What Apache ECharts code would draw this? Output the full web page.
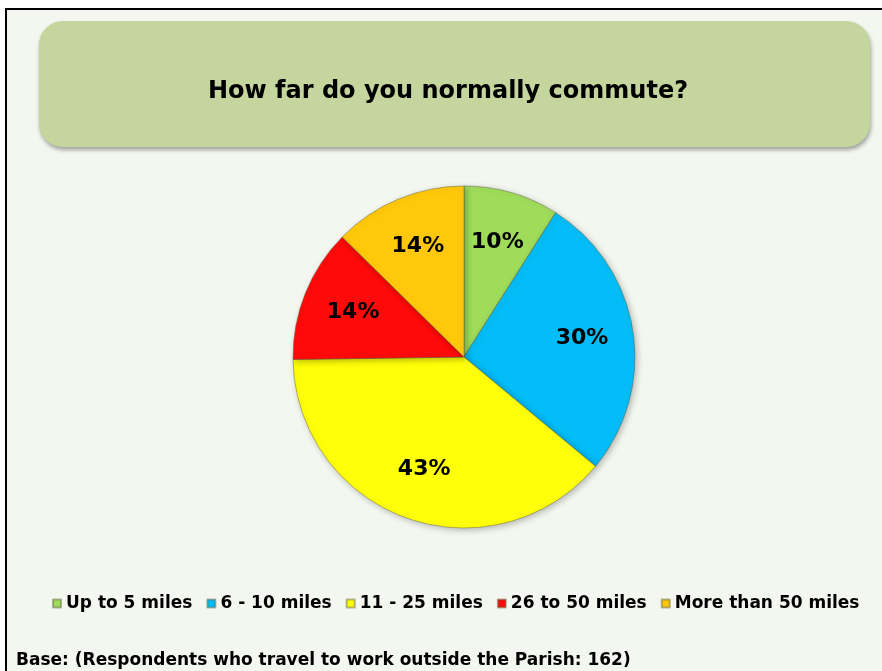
<!DOCTYPE html>
<html>
<head>
<meta charset="utf-8">
<script src="https://cdn.jsdelivr.net/npm/echarts@6/dist/echarts.min.js"></script>
<style>
  html, body { margin: 0; padding: 0; background: #fff; }
  #chart { width: 882px; height: 671px; }
</style>
</head>
<body>
<div id="chart"></div>
<script>
// data
var categories = ["Up to 5 miles", "6 - 10 miles", "11 - 25 miles", "26 to 50 miles", "More than 50 miles"];
var values = [10, 30, 43, 14, 14];
var colors = ["#9fdc5a", "#04bcf7", "#ffff0a", "#ff0a0a", "#ffc80a"];
var titleText = "How far do you normally commute?";
var baseText = "Base: (Respondents who travel to work outside the Parish: 162)";

var font = "'DejaVu Sans', Verdana, sans-serif";

var myChart = echarts.init(document.getElementById("chart"));

var pieData = [];
for (var i = 0; i < categories.length; i++) {
  pieData.push({
    name: categories[i],
    value: values[i],
    itemStyle: { color: colors[i] }
  });
}

var option = {
  backgroundColor: "#ffffff",
  animation: false,
  graphic: [
    // outer frame
    {
      type: "rect",
      shape: { x: 6, y: 9, width: 900, height: 700 },
      style: { fill: "#f4f7ef", stroke: "#000", lineWidth: 2 },
      z: -10
    },
    // title box
    {
      type: "rect",
      shape: { x: 39, y: 21, width: 831, height: 126, r: 24 },
      style: {
        fill: "#c4d69e",
        shadowBlur: 4,
        shadowOffsetX: 1,
        shadowOffsetY: 3,
        shadowColor: "rgba(0,0,0,0.35)"
      },
      z: -5
    },
    {
      type: "text",
      left: 16,
      top: 652,
      style: {
        text: baseText,
        font: "bold 17px " + font,
        fill: "#000"
      }
    }
  ],
  title: {
    text: titleText,
    left: 203,
    top: 75,
    textStyle: { fontFamily: font, fontWeight: "bold", fontSize: 24, color: "#000" }
  },
  legend: {
    data: categories,
    left: 47,
    top: 590,
    icon: "rect",
    itemWidth: 8,
    itemHeight: 8,
    itemGap: 14,
    textStyle: { fontFamily: font, fontWeight: "bold", fontSize: 17, color: "#000" }
  },
  series: [
    {
      type: "pie",
      center: [464, 357],
      radius: 171,
      startAngle: 90,
      clockwise: true,
      label: { show: false },
      labelLine: { show: false },
      itemStyle: {
        borderColor: "rgba(90,90,60,0.45)",
        borderWidth: 1,
        shadowBlur: 6,
        shadowOffsetX: 2,
        shadowOffsetY: 2,
        shadowColor: "rgba(0,0,0,0.25)"
      },
      emphasis: { disabled: true },
      data: pieData
    },
    // transparent ring only used to place the labels further out
    {
      type: "pie",
      center: [464, 357],
      radius: [62, 171],
      startAngle: 90,
      silent: true,
      itemStyle: { color: "rgba(0,0,0,0)" },
      label: {
        show: true,
        position: "inside",
        formatter: "{c}%",
        fontFamily: font,
        fontWeight: "bold",
        fontSize: 22,
        color: "#000"
      },
      labelLine: { show: false },
      data: values.map(function (v, i) { return { name: categories[i], value: v }; })
    }
  ]
};

myChart.setOption(option);
</script>
</body>
</html>
